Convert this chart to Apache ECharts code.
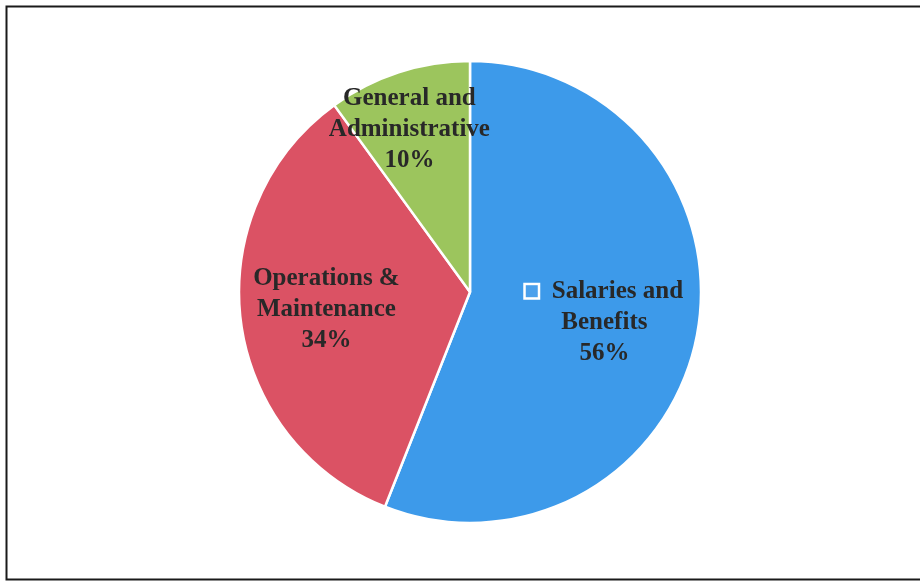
<!DOCTYPE html>
<html>
<head>
<meta charset="utf-8">
<script src="https://cdn.jsdelivr.net/npm/echarts@6/dist/echarts.min.js"></script>
<style>
  html, body { margin: 0; padding: 0; background: #ffffff; }
  #chart { width: 920px; height: 582px; }
</style>
</head>
<body>
<div id="chart"></div>
<script>
// Expense categories and their shares of the budget (percent)
const categories = ['Salaries and Benefits', 'Operations & Maintenance', 'General and Administrative'];
const labelLines = [['Salaries and', 'Benefits'], ['Operations &', 'Maintenance'], ['General and', 'Administrative']];
const shares = [56, 34, 10];
const colors = ['#3d9aea', '#db5264', '#9cc55d'];

const chart = echarts.init(document.getElementById('chart'), null, { renderer: 'canvas' });

// Per-slice nudges for the inside labels
const labelNudge = [[18, 8], [-26, 3], [-24, -50]];

const data = categories.map((name, i) => ({
  name: name,
  value: shares[i],
  itemStyle: { color: colors[i] },
  label: {
    formatter: (i === 0 ? '{box|}{gap|}' : '') + labelLines[i].join('\n') + '\n' + shares[i] + '%'
  }
}));

chart.setOption({
  animation: false,
  backgroundColor: '#ffffff',
  graphic: [{
    type: 'rect',
    shape: { x: 6.5, y: 6.5, width: 930, height: 573 },
    style: { fill: 'none', stroke: '#1a1a1a', lineWidth: 2 },
    silent: true
  }],
  series: [{
    type: 'pie',
    center: [470, 292],
    radius: [0, 231],
    startAngle: 90,
    clockwise: true,
    avoidLabelOverlap: false,
    itemStyle: { borderColor: '#ffffff', borderWidth: 2.5 },
    label: {
      show: true,
      position: 'inside',
      color: '#282828',
      fontFamily: '"Liberation Serif", "Times New Roman", serif',
      fontWeight: 'bold',
      fontSize: 25,
      lineHeight: 31,
      align: 'center',
      rich: {
        box: {
          width: 12,
          height: 12,
          borderColor: '#ffffff',
          borderWidth: 2.5,
          backgroundColor: '#4aa0ec'
        },
        gap: { width: 14 }
      }
    },
    labelLine: { show: false },
    labelLayout: function (params) {
      const n = labelNudge[params.dataIndex];
      return { dx: n[0], dy: n[1] };
    },
    emphasis: { disabled: true },
    data: data
  }]
});
</script>
</body>
</html>
